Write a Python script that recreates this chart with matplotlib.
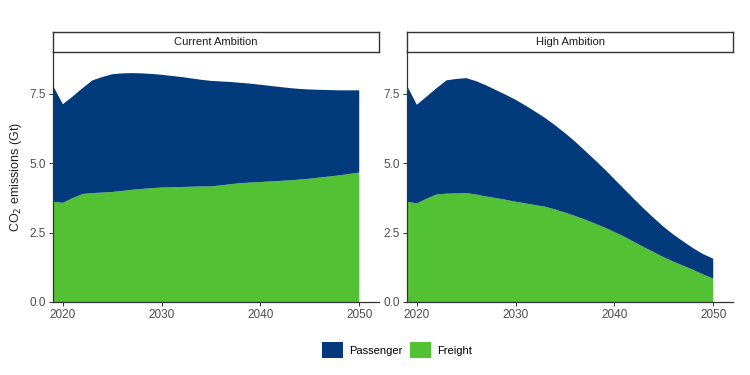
import matplotlib
matplotlib.use('Agg')
import matplotlib.pyplot as plt
from matplotlib.patches import Patch

plt.rcParams['font.family'] = ['Liberation Sans', 'DejaVu Sans']

years = list(range(2019, 2051))

# Current Ambition (Gt CO2)
current_total = [7.79, 7.12, 7.40, 7.70, 7.98, 8.10, 8.20, 8.23, 8.24, 8.23, 8.21,
                 8.18, 8.14, 8.10, 8.05, 8.00, 7.96, 7.94, 7.92, 7.89, 7.86,
                 7.82, 7.78, 7.74, 7.70, 7.67, 7.65, 7.64, 7.63, 7.62, 7.62, 7.62]
current_freight = [3.61, 3.57, 3.74, 3.89, 3.92, 3.94, 3.96, 4.00, 4.04, 4.07, 4.10,
                   4.12, 4.13, 4.14, 4.15, 4.16, 4.16, 4.20, 4.24, 4.28, 4.30,
                   4.32, 4.34, 4.36, 4.38, 4.41, 4.44, 4.48, 4.52, 4.56, 4.61, 4.66]

# High Ambition (Gt CO2)
high_total = [7.79, 7.10, 7.40, 7.70, 7.98, 8.03, 8.06, 7.95, 7.80, 7.63, 7.46,
              7.28, 7.07, 6.85, 6.62, 6.36, 6.08, 5.78, 5.45, 5.12, 4.78,
              4.42, 4.06, 3.70, 3.35, 3.02, 2.70, 2.42, 2.17, 1.93, 1.72, 1.56]
high_freight = [3.61, 3.55, 3.72, 3.87, 3.90, 3.91, 3.92, 3.87, 3.80, 3.74, 3.68,
                3.61, 3.55, 3.49, 3.43, 3.33, 3.22, 3.10, 2.97, 2.83, 2.68,
                2.52, 2.35, 2.16, 1.97, 1.79, 1.61, 1.45, 1.30, 1.15, 0.99, 0.84]

panels = ['Current Ambition', 'High Ambition']
series = ['Passenger', 'Freight']
colors = {'Passenger': '#023a7c', 'Freight': '#52c234'}
x_ticks = [2020, 2030, 2040, 2050]
y_ticks = [0.0, 2.5, 5.0, 7.5]

fig = plt.figure(figsize=(7.5, 3.75), dpi=100)

W, H = 750.0, 375.0
panel_px = [(53, 379), (407, 733)]
top_px, bottom_px, strip_top_px = 52, 302, 32

data = [(current_total, current_freight), (high_total, high_freight)]

for i, (title, (total, freight)) in enumerate(zip(panels, data)):
    x0, x1 = panel_px[i]
    ax = fig.add_axes([x0 / W, 1 - bottom_px / H, (x1 - x0) / W, (bottom_px - top_px) / H])
    passenger = [t - f for t, f in zip(total, freight)]
    ax.stackplot(years, freight, passenger,
                 colors=[colors['Freight'], colors['Passenger']], linewidth=0)
    ax.set_xlim(2019, 2052)
    ax.set_ylim(0, 9)
    ax.set_xticks(x_ticks)
    ax.set_yticks(y_ticks)
    ax.set_yticklabels(['{:.1f}'.format(v) for v in y_ticks])
    for side in ('top', 'right'):
        ax.spines[side].set_visible(False)
    for side in ('left', 'bottom'):
        ax.spines[side].set_color('#333333')
        ax.spines[side].set_linewidth(0.9)
    ax.tick_params(axis='both', labelsize=8.5, colors='#333333', labelcolor='#4d4d4d',
                   length=3, width=0.7, pad=2)
    if i == 0:
        ax.set_ylabel('CO$_2$ emissions (Gt)', fontsize=9, color='#222222', labelpad=4)

    sax = fig.add_axes([x0 / W, 1 - top_px / H, (x1 - x0) / W, (top_px - strip_top_px) / H])
    sax.set_xticks([])
    sax.set_yticks([])
    for sp in sax.spines.values():
        sp.set_color('#333333')
        sp.set_linewidth(1.0)
    sax.text(0.5, 0.5, title, ha='center', va='center', fontsize=8, color='#1a1a1a')

handles = [Patch(facecolor=colors[s], edgecolor='none', label=s) for s in series]
fig.legend(handles=handles, loc='center', bbox_to_anchor=(397 / W, 1 - 350 / H),
           ncol=2, frameon=False, fontsize=8, handlelength=1.9, handleheight=1.9,
           handletextpad=0.6, columnspacing=0.6)

fig.savefig('out.png', dpi=100)
